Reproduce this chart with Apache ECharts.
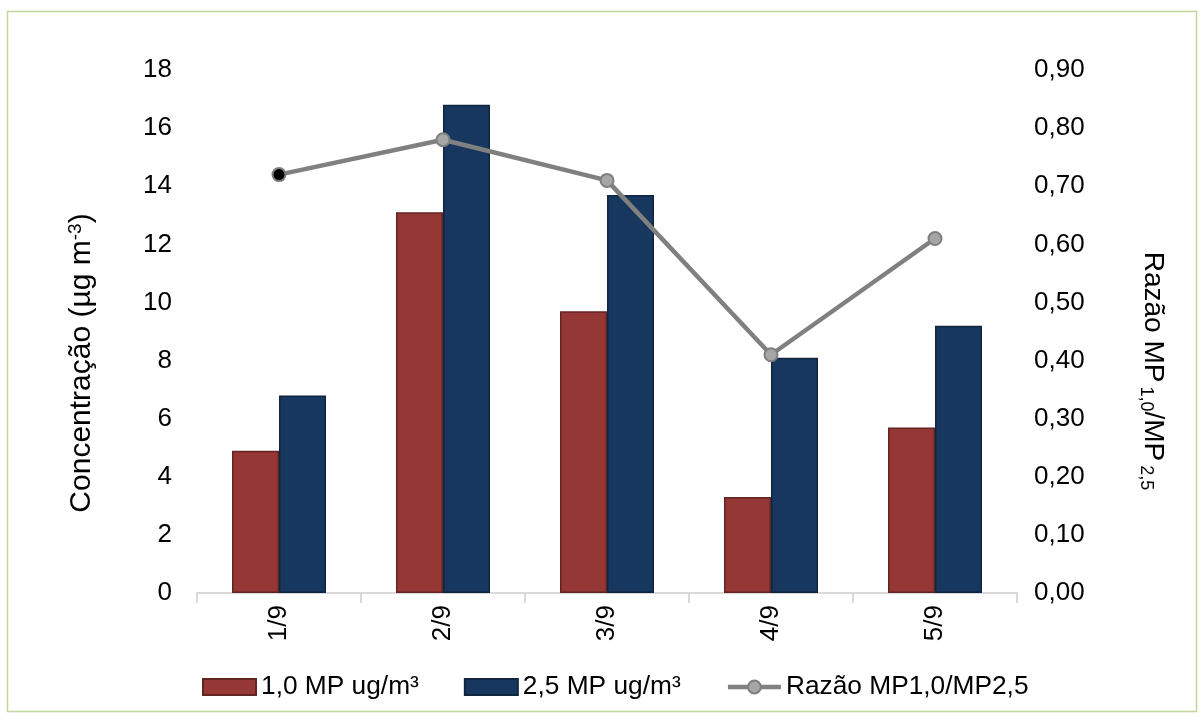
<!DOCTYPE html>
<html>
<head>
<meta charset="utf-8">
<script src="https://cdn.jsdelivr.net/npm/echarts@6/dist/echarts.min.js"></script>
<style>
  html, body { margin: 0; padding: 0; background: #fff; }
  #chart { width: 1204px; height: 718px; }
</style>
</head>
<body>
<div id="chart"></div>
<script>
// Daily particulate matter concentrations and their ratio
const categories = ['1/9', '2/9', '3/9', '4/9', '5/9'];
const pm10Values = [4.9, 13.1, 9.7, 3.3, 5.7];   // 1,0 MP ug/m³
const pm25Values = [6.8, 16.8, 13.7, 8.1, 9.2];  // 2,5 MP ug/m³
const ratioValues = [0.72, 0.78, 0.71, 0.41, 0.61];
const leftTicks = { min: 0, max: 18, interval: 2 };
const rightTicks = { min: 0, max: 0.9, interval: 0.1 };

const FONT = '"Liberation Sans", Arial, sans-serif';
const chart = echarts.init(document.getElementById('chart'), null, { renderer: 'canvas' });

// first ratio point is drawn with a black marker
const ratioData = ratioValues.map((v, i) => i === 0
  ? { value: v, itemStyle: { color: '#000000', borderColor: '#7f7f7f' } }
  : v);

chart.setOption({
  backgroundColor: '#ffffff',
  animation: false,
  textStyle: { fontFamily: FONT },
  grid: { left: 197, right: 187, top: 70, bottom: 125, containLabel: false },
  legend: {
    left: 197,
    top: 669,
    itemWidth: 53,
    itemHeight: 16,
    itemGap: 45,
    textStyle: { fontFamily: FONT, fontSize: 26.3, color: '#000' },
    data: [
      { name: '1,0 MP ug/m³', icon: 'rect' },
      { name: '2,5 MP ug/m³', icon: 'rect' },
      { name: 'Razão MP1,0/MP2,5', lineStyle: { width: 4.5, color: '#808080' } }
    ]
  },
  xAxis: {
    type: 'category',
    data: categories,
    boundaryGap: true,
    axisLine: { show: true, lineStyle: { color: '#d9d9d9', width: 2 } },
    axisTick: { show: true, length: 10, lineStyle: { color: '#d9d9d9', width: 2 } },
    axisLabel: { rotate: 90, margin: 12, fontSize: 26, color: '#000', fontFamily: FONT },
    splitLine: { show: false }
  },
  yAxis: [
    {
      type: 'value',
      min: leftTicks.min, max: leftTicks.max, interval: leftTicks.interval,
      axisLine: { show: false },
      axisTick: { show: false },
      splitLine: { show: false },
      axisLabel: { margin: 25, fontSize: 26, color: '#000', fontFamily: FONT }
    },
    {
      type: 'value',
      position: 'right',
      min: rightTicks.min, max: rightTicks.max, interval: rightTicks.interval,
      axisLine: { show: false },
      axisTick: { show: false },
      splitLine: { show: false },
      axisLabel: {
        margin: 17, fontSize: 26, color: '#000', fontFamily: FONT,
        formatter: v => v.toFixed(2).replace('.', ',')
      }
    }
  ],
  series: [
    {
      name: '1,0 MP ug/m³',
      type: 'bar',
      data: pm10Values,
      barWidth: 47,
      barGap: '0%',
      itemStyle: { color: '#953735', borderColor: '#632523', borderWidth: 1.5 }
    },
    {
      name: '2,5 MP ug/m³',
      type: 'bar',
      data: pm25Values,
      barWidth: 47,
      barGap: '0%',
      itemStyle: { color: '#17375e', borderColor: '#10253f', borderWidth: 1.5 }
    },
    {
      name: 'Razão MP1,0/MP2,5',
      type: 'line',
      yAxisIndex: 1,
      data: ratioData,
      z: 5,
      symbol: 'circle',
      symbolSize: 13,
      lineStyle: { color: '#808080', width: 4.5 },
      itemStyle: { color: '#a6a6a6', borderColor: '#7f7f7f', borderWidth: 2 }
    }
  ],
  graphic: [
    {
      type: 'rect',
      shape: { x: 7.5, y: 11.5, width: 1189, height: 700 },
      style: { fill: 'none', stroke: '#c3d69b', lineWidth: 1.5 },
      silent: true
    },
    {
      type: 'text',
      x: 82, y: 363,
      rotation: Math.PI / 2,
      style: {
        text: '{n|Concentração (µg m}{s|-3}{n|)}',
        align: 'center', verticalAlign: 'middle',
        fill: '#000',
        rich: {
          n: { fontFamily: FONT, fontSize: 30, lineHeight: 32, verticalAlign: 'middle' },
          s: { fontFamily: FONT, fontSize: 19, verticalAlign: 'top' }
        }
      }
    },
    {
      type: 'text',
      x: 1153, y: 371,
      rotation: -Math.PI / 2,
      style: {
        text: '{n|Razão MP}{s|1,0}{n|/MP}{s|2,5}',
        align: 'center', verticalAlign: 'middle',
        fill: '#000',
        rich: {
          n: { fontFamily: FONT, fontSize: 28, lineHeight: 32, verticalAlign: 'middle' },
          s: { fontFamily: FONT, fontSize: 18, verticalAlign: 'bottom', padding: [0, 0, 0, 4] }
        }
      }
    }
  ]
});
</script>
</body>
</html>
